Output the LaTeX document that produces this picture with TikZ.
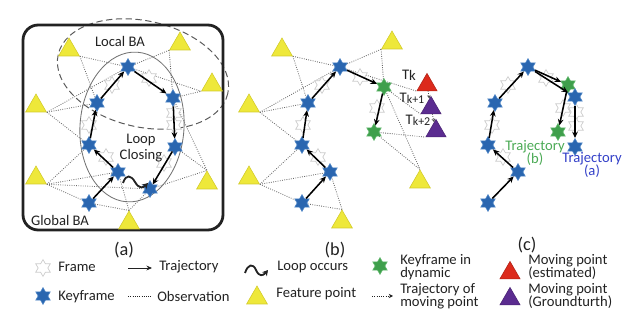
\documentclass[tikz,border=0pt]{standalone}
\usepackage{fontspec}
\setmainfont{Carlito}
\usetikzlibrary{shapes.geometric,arrows.meta}
\pgfdeclarelayer{bg}
\pgfsetlayers{bg,main}

\definecolor{kfblue}{HTML}{2A66B0}
\definecolor{kfedge}{HTML}{4F86C6}
\definecolor{dyngreen}{HTML}{3F9F4C}
\definecolor{dynedge}{HTML}{62B86E}
\definecolor{featyellow}{HTML}{EEE83A}
\definecolor{featedge}{HTML}{D2CB2A}
\definecolor{estred}{HTML}{DC2A1C}
\definecolor{gtpurple}{HTML}{5B2C90}
\definecolor{obsgray}{HTML}{6A6A6A}
\definecolor{txtblue}{HTML}{3340C8}
\definecolor{txtgreen}{HTML}{4BAA55}
\definecolor{txtdark}{HTML}{222222}

% two-line labels set with a compressed line pitch
\newcommand\tightlines{\fontsize{10.4}{8.9}\selectfont\lineskiplimit=-5pt\relax\lineskip=0pt\relax}

\begin{document}
\begin{tikzpicture}[x=0.025cm,y=-0.025cm,
  hexstar/.style={star, star points=6, star point ratio=1.73, minimum size=0.42cm, inner sep=0pt, line width=0.4pt},
  keyframe/.style={hexstar, fill=kfblue, draw=kfedge},
  frame/.style={hexstar, fill=white, draw=black!20, line width=0.5pt},
  dynkf/.style={hexstar, fill=dyngreen, draw=dynedge},
  tri/.style={regular polygon, regular polygon sides=3, minimum size=0.6cm, inner sep=0pt, line width=0.4pt},
  feature/.style={tri, fill=featyellow, draw=featedge},
  movest/.style={tri, minimum size=0.58cm, fill=estred, draw=estred!80!black},
  movgt/.style={tri, minimum size=0.58cm, fill=gtpurple, draw=gtpurple!80!black},
  traj/.style={-{Stealth[length=4.5pt,width=4pt]}, line width=1.1pt, black},
  obs/.style={densely dotted, obsgray, line width=0.6pt},
  legarrow/.style={-{Stealth[length=4pt,width=3.5pt]}, line width=0.6pt, txtdark},
  legdots/.style={densely dotted, line width=0.6pt, txtdark},
  movtraj/.style={densely dotted, line width=0.5pt, black!70, -{Stealth[length=2.5pt,width=2.5pt]}},
  loopmark/.style={line width=1.3pt, txtdark, -{Stealth[length=4pt,width=4.5pt]}},
  lbl/.style={font=\fontsize{10.4}{11.5}\selectfont, text=txtdark, inner sep=0pt},
  tight/.style={font=\tightlines},
  leg2/.style={tight, text=txtdark, inner sep=0pt, align=left, anchor=west},
  captext/.style={font=\fontsize{13}{15}\selectfont, text=txtdark, inner sep=0pt},
  globalbox/.style={line width=2pt, rounded corners=0.38cm, txtdark},
  localba/.style={dashed, dash pattern=on 4.5pt off 2.5pt, black!65, line width=0.7pt},
  loopcl/.style={black!55, line width=0.6pt}
]
\useasboundingbox (0,0) rectangle (640,320);

% ---------------- (a) Global BA / Local BA / Loop closing ----------------
\draw[globalbox] (23,25) rectangle (223,230);

% frames
\foreach \n/\p in {af1/{(112,85)}, af2/{(149,78)}, af3/{(89,125)}, af4/{(106,157)},
                   af5/{(164,163)}, af6/{(174,113)}, af7/{(174,125)}}
  \node[frame] (\n) at \p {};

% feature points
\node[feature] (ta1) at (69,50) {};
\node[feature] (ta2) at (180,44) {};
\node[feature] (ta3) at (212,85) {};
\node[feature] (ta4) at (36,106) {};
\node[feature] (ta5) at (36,178) {};
\node[feature] (ta6) at (207,183) {};
\node[feature] (ta7) at (129,223) {};

% keyframes
\node[keyframe] (a1) at (128,67) {};
\node[keyframe] (a2) at (97,103) {};
\node[keyframe] (a3) at (89,145) {};
\node[keyframe] (a4) at (118,172) {};
\node[keyframe] (a5) at (89,203) {};
\node[keyframe] (a6) at (173,98) {};
\node[keyframe] (a7) at (175,147) {};
\node[keyframe] (a8) at (150,189) {};

\draw[traj] (a5) -- (a4);
\draw[traj] (a4) -- (a3);
\draw[traj] (a3) -- (a2);
\draw[traj] (a2) -- (a1);
\draw[traj] (a1) -- (a6);
\draw[traj] (a6) -- (a7);
\draw[traj] (a7) -- (a8);

% loop occurs
\draw[loopmark] (123,183) .. controls (126,174) and (131,175) .. (135,182)
                          .. controls (139,189) and (143,188) .. (148,183);

\node[lbl] (tlocal) at (120,41) {Local BA};
\node[lbl, align=center] (tloop) at (141,148) {Loop\\Closing};
\node[lbl] (tglobal) at (60,220) {Global BA};

% ---------------- (b) dynamic keyframes ----------------
\foreach \n/\p in {bf1/{(322,85)}, bf2/{(360,77)}, bf3/{(303,125)}, bf4/{(318,157)}, bf5/{(377,108)}}
  \node[frame] (\n) at \p {};

\node[feature] (tb1) at (282,50) {};
\node[feature] (tb2) at (392,43) {};
\node[feature] (tb4) at (249,106) {};
\node[feature] (tb5) at (249,178) {};
\node[feature] (tb6) at (420,182) {};
\node[feature] (tb7) at (342,222) {};

\node[movest] (r0) at (427,85) {};
\node[movgt] (p1) at (431,108) {};
\node[movgt] (p2) at (436,131) {};

\node[keyframe] (b1) at (340,67) {};
\node[keyframe] (b2) at (308,103) {};
\node[keyframe] (b3) at (302,145) {};
\node[keyframe] (b4) at (330,172) {};
\node[keyframe] (b5) at (302,203) {};
\node[dynkf] (g1) at (384,87) {};
\node[dynkf] (g2) at (374,132) {};

\draw[traj] (b5) -- (b4);
\draw[traj] (b4) -- (b3);
\draw[traj] (b3) -- (b2);
\draw[traj] (b2) -- (b1);
\draw[traj] (b1) -- (g1);
\draw[traj] (g1) -- (g2);

\draw[movtraj] (r0) -- (p1);
\draw[movtraj] (p1) -- (p2);

\node[lbl] (tk0) at (409,75) {T\raisebox{-0.6pt}{k}};
\node[lbl] (tk1) at (412,98) {T\raisebox{-0.8pt}{\fontsize{8.5}{9}\selectfont k+1}};
\node[lbl] (tk2) at (418,120) {T\raisebox{-0.8pt}{\fontsize{8.5}{9}\selectfont k+2}};

% ---------------- (c) two trajectories ----------------
\foreach \n/\p in {cf1/{(508,85)}, cf2/{(546,78)}, cf3/{(492,125)}, cf4/{(503,157)},
                   cf5/{(563,108)}, cf6/{(576,112)}, cf7/{(576,126)}}
  \node[frame] (\n) at \p {};

\node[keyframe] (c1) at (528,67) {};
\node[keyframe] (c2) at (495,103) {};
\node[keyframe] (c3) at (488,145) {};
\node[keyframe] (c4) at (518,172) {};
\node[keyframe] (c5) at (488,203) {};
\node[dynkf] (cg1) at (568,85) {};
\node[dynkf] (cg2) at (558,132) {};
\node[keyframe] (c6) at (575,97) {};
\node[keyframe] (c7) at (575,147) {};

\draw[traj] (c5) -- (c4);
\draw[traj] (c4) -- (c3);
\draw[traj] (c3) -- (c2);
\draw[traj] (c2) -- (c1);
\draw[traj] (c1) -- (cg1);
\draw[traj] (c1) -- (c6);
\draw[traj] (cg1) -- (cg2);
\draw[traj] (c6) -- (c7);

\node[tight, text=txtgreen, align=center, inner sep=0pt] (ttb) at (535,153) {Trajectory\\(b)};
\node[tight, text=txtblue, align=center, inner sep=0pt] (tta) at (592,165) {Trajectory\\(a)};

% ---------------- observations and regions (behind) ----------------
\begin{pgfonlayer}{bg}
  \draw[localba, rotate around={-13:(143,74)}] (143,74) ellipse [x radius=87, y radius=53];
  \draw[loopcl, rotate around={-4:(132,127)}] (132,127) ellipse [x radius=52, y radius=75];

  % (a)
  \draw[obs] (ta1.corner 3) -- (a1.center);
  \draw[obs] (ta1.corner 3) -- (a2.center);
  \draw[obs] (ta4.corner 3) -- (a1.center);
  \draw[obs] (ta4.corner 3) -- (a2.center);
  \draw[obs] (ta4.corner 3) -- (a3.center);
  \draw[obs] (ta5.corner 3) -- (a3.center);
  \draw[obs] (ta5.corner 3) -- (a4.center);
  \draw[obs] (ta5.corner 3) -- (a5.center);
  \draw[obs] (ta5.corner 3) -- (a8.center);
  \draw[obs] (ta7.corner 1) -- (a5.center);
  \draw[obs] (ta7.corner 1) -- (a4.center);
  \draw[obs] (ta7.corner 1) -- (a8.center);
  \draw[obs] (ta2.corner 2) -- (a1.center);
  \draw[obs] (ta2.corner 2) -- (a6.center);
  \draw[obs] (a1.center) -- (ta3.corner 2);
  \draw[obs] (a6.center) -- (ta3.corner 2);
  \draw[obs] (a6.center) -- (ta6.corner 1);
  \draw[obs] (a7.center) -- (ta6.corner 1);
  \draw[obs] (a8.center) -- (ta6.corner 1);

  % (b)
  \draw[obs] (tb1.corner 3) -- (b1.center);
  \draw[obs] (tb1.corner 3) -- (b2.center);
  \draw[obs] (tb4.corner 3) -- (b1.center);
  \draw[obs] (tb4.corner 3) -- (b2.center);
  \draw[obs] (tb4.corner 3) -- (b3.center);
  \draw[obs] (tb5.corner 3) -- (b3.center);
  \draw[obs] (tb5.corner 3) -- (b4.center);
  \draw[obs] (tb5.corner 3) -- (b5.center);
  \draw[obs] (tb7.corner 1) -- (b5.center);
  \draw[obs] (tb7.corner 1) -- (b4.center);
  \draw[obs] (tb2.corner 2) -- (b1.center);
  \draw[obs] (tb2.corner 2) -- (g1.center);
  \draw[obs] (b1.center) -- (r0.corner 2);
  \draw[obs] (g1.center) -- (p1.corner 2);
  \draw[obs] (g1.center) -- (tb6.corner 1);
  \draw[obs] (g2.center) -- (p2.corner 2);
  \draw[obs] (g2.center) -- (tb6.corner 1);
\end{pgfonlayer}

% ---------------- captions ----------------
\node[captext] (capa) at (124,250) {(a)};
\node[captext] (capb) at (335,250) {(b)};
\node[captext] (capc) at (527,245) {(c)};

% ---------------- legend ----------------
\node[frame] (lgframe) at (43,268) {};
\node[lbl, anchor=west] (lgframet) at (58,267) {Frame};
\node[keyframe] (lgkf) at (43,296) {};
\node[lbl, anchor=west] (lgkft) at (58,297) {Keyframe};

\coordinate (lgtr1) at (128,268);
\coordinate (lgtr2) at (152,268);
\draw[legarrow] (lgtr1) -- (lgtr2);
\node[lbl, anchor=west] (lgtrt) at (159,267) {Trajectory};
\coordinate (lgob1) at (128,296);
\coordinate (lgob2) at (152,296);
\draw[legdots] (lgob1) -- (lgob2);
\node[lbl, anchor=west] (lgobt) at (157,296) {Observation};

\draw[loopmark] (245,273) .. controls (248,264) and (253,263) .. (256,270)
                          .. controls (259,277) and (263,276) .. (268,270);
\node[lbl, anchor=west] (lgloopt) at (277,267) {Loop occurs};
\node[feature] (lgfeat) at (257,298) {};
\node[lbl, anchor=west] (lgfeatt) at (276,294) {Feature point};

\node[dynkf] (lgdyn) at (380,266) {};
\node[leg2] (lgdynt) at (400,267) {Keyframe in\\dynamic};
\coordinate (lgmv1) at (372,296);
\coordinate (lgmv2) at (393,296);
\draw[legdots, -{Stealth[length=3pt,width=3pt]}] (lgmv1) -- (lgmv2);
\node[leg2] (lgmvt) at (400,296) {Trajectory of\\moving point};

\node[movest] (lgest) at (510,273) {};
\node[leg2] (lgestt) at (528,267) {Moving point\\(estimated)};
\node[movgt] (lggt) at (510,299) {};
\node[leg2] (lggtt) at (528,296) {Moving point\\(Groundturth)};
\end{tikzpicture}
\end{document}
